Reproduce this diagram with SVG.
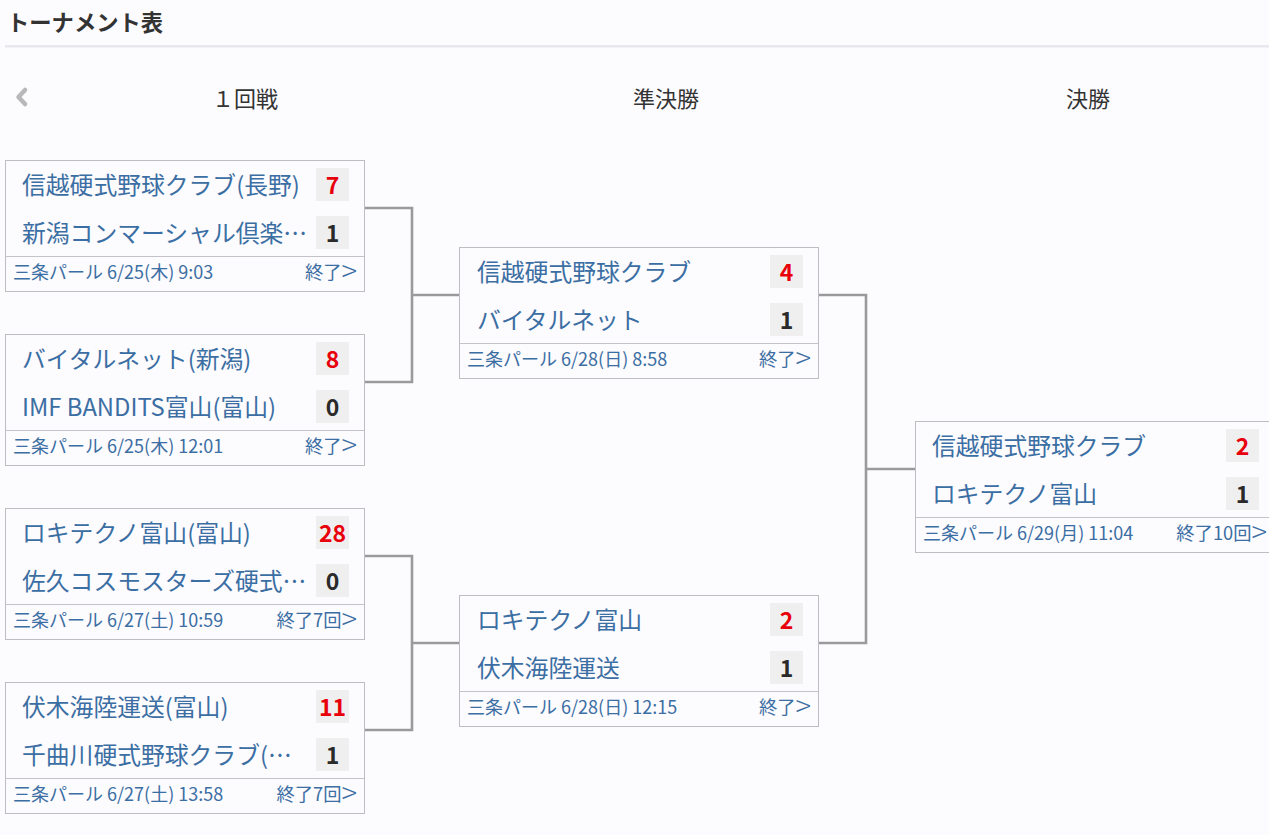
<svg xmlns="http://www.w3.org/2000/svg" width="1269" height="835" viewBox="0 0 1269 835">
<style>
text{font-family:"Noto Sans CJK JP","Noto Sans",sans-serif}
.bg{fill:#fcfbfe}
.title{font-size:22.3px;font-weight:bold;fill:#333}
.round{font-size:22px;fill:#333;text-anchor:middle}
.box{fill:#fcfbfe;stroke:#bdbdc2;stroke-width:1}
.sep{stroke:#c4c4c8;stroke-width:1}
.sb{fill:#efeff0}
.name{font-size:23.8px;fill:#3b6ea3}
.win{font-size:23px;font-weight:bold;fill:#e8000b;text-anchor:middle}
.lose{font-size:23px;font-weight:bold;fill:#2a2a2a;text-anchor:middle}
.foot{font-size:18px;fill:#3b6ea3}
.end{font-size:18.3px;fill:#3b6ea3;text-anchor:end}
.gt{font-size:29px;font-weight:200}
.conn{fill:none;stroke:#9a9a9c;stroke-width:2.6}
</style>
<rect class="bg" x="0" y="0" width="1269" height="835"/>
<g id="header">
<text class="title" x="7" y="31">トーナメント表</text>
<rect x="5" y="45" width="1264" height="2.5" fill="#e9e8ee"/>
<path d="M25 90 L18.5 97 L25 104" fill="none" stroke="#b8b8bb" stroke-width="4.5" stroke-linecap="round" stroke-linejoin="round"/>
<text class="round" x="245" y="107">１回戦</text>
<text class="round" x="666" y="107">準決勝</text>
<text class="round" x="1088" y="107">決勝</text>
</g>
<g id="connectors">
<path class="conn" d="M364 208 H412 V382 H364"/>
<path class="conn" d="M412 295 H459"/>
<path class="conn" d="M364 556 H412 V730 H364"/>
<path class="conn" d="M412 643 H459"/>
<path class="conn" d="M818 295 H866 V643 H818"/>
<path class="conn" d="M866 469 H915"/>
</g>
<g id="m1" transform="translate(5,160)">
<rect class="box" x="0.5" y="0.5" width="359" height="131"/>
<rect class="sb" x="311" y="8" width="33" height="33"/>
<rect class="sb" x="311" y="56" width="33" height="33"/>
<text class="name" x="17" y="34">信越硬式野球クラブ(長野)</text>
<text class="win" x="327.5" y="34">7</text>
<text class="name" x="17" y="82">新潟コンマーシャル倶楽…</text>
<text class="lose" x="327.5" y="82">1</text>
<line class="sep" x1="0" y1="96.5" x2="359" y2="96.5"/>
<text class="foot" x="8" y="119">三条パール 6/25(木) 9:03</text>
<text class="end" x="352" y="119">終了<tspan class="gt" dy="3">&gt;</tspan></text>
</g>
<g id="m2" transform="translate(5,334)">
<rect class="box" x="0.5" y="0.5" width="359" height="131"/>
<rect class="sb" x="311" y="8" width="33" height="33"/>
<rect class="sb" x="311" y="56" width="33" height="33"/>
<text class="name" x="17" y="34">バイタルネット(新潟)</text>
<text class="win" x="327.5" y="34">8</text>
<text class="name" x="17" y="82">IMF BANDITS富山(富山)</text>
<text class="lose" x="327.5" y="82">0</text>
<line class="sep" x1="0" y1="96.5" x2="359" y2="96.5"/>
<text class="foot" x="8" y="119">三条パール 6/25(木) 12:01</text>
<text class="end" x="352" y="119">終了<tspan class="gt" dy="3">&gt;</tspan></text>
</g>
<g id="m3" transform="translate(5,508)">
<rect class="box" x="0.5" y="0.5" width="359" height="131"/>
<rect class="sb" x="311" y="8" width="33" height="33"/>
<rect class="sb" x="311" y="56" width="33" height="33"/>
<text class="name" x="17" y="34">ロキテクノ富山(富山)</text>
<text class="win" x="327.5" y="34">28</text>
<text class="name" x="17" y="82">佐久コスモスターズ硬式…</text>
<text class="lose" x="327.5" y="82">0</text>
<line class="sep" x1="0" y1="96.5" x2="359" y2="96.5"/>
<text class="foot" x="8" y="119">三条パール 6/27(土) 10:59</text>
<text class="end" x="352" y="119">終了7回<tspan class="gt" dy="3">&gt;</tspan></text>
</g>
<g id="m4" transform="translate(5,682)">
<rect class="box" x="0.5" y="0.5" width="359" height="131"/>
<rect class="sb" x="311" y="8" width="33" height="33"/>
<rect class="sb" x="311" y="56" width="33" height="33"/>
<text class="name" x="17" y="34">伏木海陸運送(富山)</text>
<text class="win" x="327.5" y="34">11</text>
<text class="name" x="17" y="82">千曲川硬式野球クラブ(…</text>
<text class="lose" x="327.5" y="82">1</text>
<line class="sep" x1="0" y1="96.5" x2="359" y2="96.5"/>
<text class="foot" x="8" y="119">三条パール 6/27(土) 13:58</text>
<text class="end" x="352" y="119">終了7回<tspan class="gt" dy="3">&gt;</tspan></text>
</g>
<g id="s1" transform="translate(459,247)">
<rect class="box" x="0.5" y="0.5" width="359" height="131"/>
<rect class="sb" x="311" y="8" width="33" height="33"/>
<rect class="sb" x="311" y="56" width="33" height="33"/>
<text class="name" x="18" y="34">信越硬式野球クラブ</text>
<text class="win" x="327.5" y="34">4</text>
<text class="name" x="18" y="82">バイタルネット</text>
<text class="lose" x="327.5" y="82">1</text>
<line class="sep" x1="0" y1="96.5" x2="359" y2="96.5"/>
<text class="foot" x="8" y="119">三条パール 6/28(日) 8:58</text>
<text class="end" x="352" y="119">終了<tspan class="gt" dy="3">&gt;</tspan></text>
</g>
<g id="s2" transform="translate(459,595)">
<rect class="box" x="0.5" y="0.5" width="359" height="131"/>
<rect class="sb" x="311" y="8" width="33" height="33"/>
<rect class="sb" x="311" y="56" width="33" height="33"/>
<text class="name" x="18" y="34">ロキテクノ富山</text>
<text class="win" x="327.5" y="34">2</text>
<text class="name" x="18" y="82">伏木海陸運送</text>
<text class="lose" x="327.5" y="82">1</text>
<line class="sep" x1="0" y1="96.5" x2="359" y2="96.5"/>
<text class="foot" x="8" y="119">三条パール 6/28(日) 12:15</text>
<text class="end" x="352" y="119">終了<tspan class="gt" dy="3">&gt;</tspan></text>
</g>
<g id="f1" transform="translate(915,421)">
<rect class="box" x="0.5" y="0.5" width="359" height="131"/>
<rect class="sb" x="311" y="8" width="33" height="33"/>
<rect class="sb" x="311" y="56" width="33" height="33"/>
<text class="name" x="17" y="34">信越硬式野球クラブ</text>
<text class="win" x="327.5" y="34">2</text>
<text class="name" x="17" y="82">ロキテクノ富山</text>
<text class="lose" x="327.5" y="82">1</text>
<line class="sep" x1="0" y1="96.5" x2="359" y2="96.5"/>
<text class="foot" x="8" y="119">三条パール 6/29(月) 11:04</text>
<text class="end" x="352" y="119">終了10回<tspan class="gt" dy="3">&gt;</tspan></text>
</g>
</svg>
